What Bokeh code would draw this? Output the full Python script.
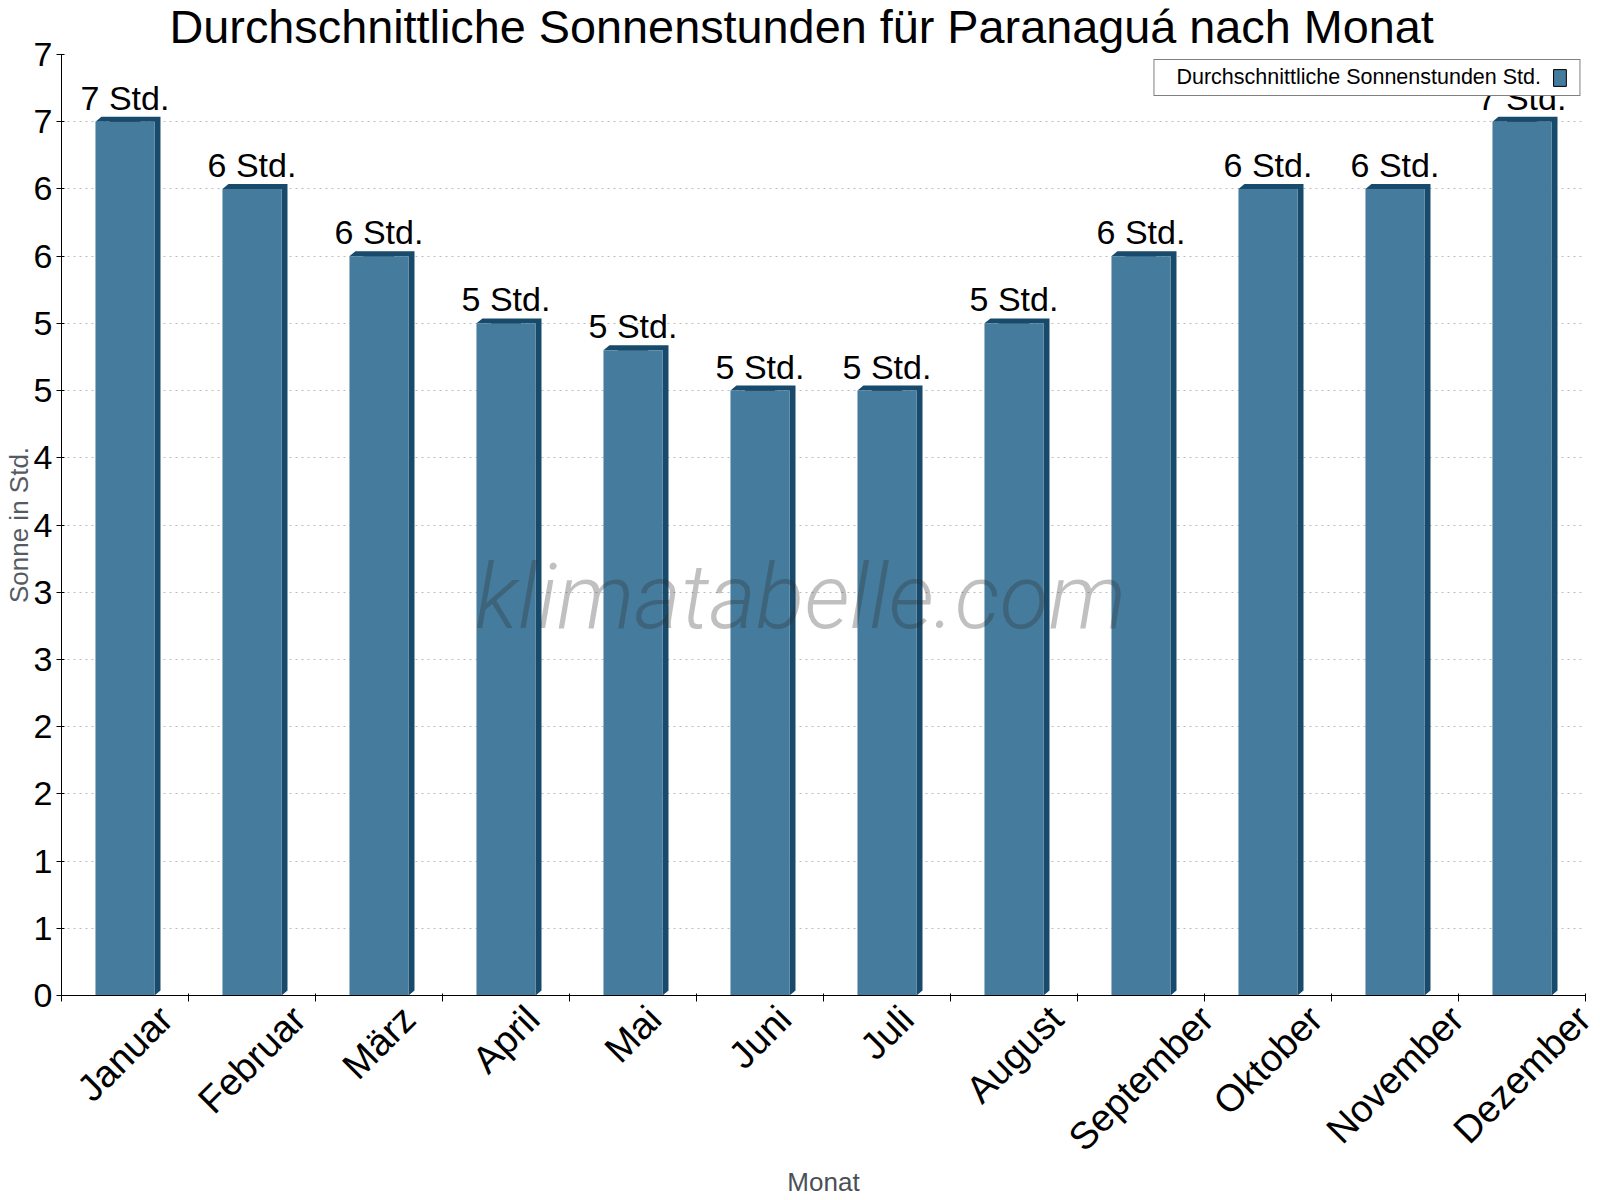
import math

from bokeh.plotting import figure
from bokeh.models import (
    ColumnDataSource, CustomJSTickFormatter, FixedTicker, Label,
    Legend, LegendItem, LinearAxis, Range1d
)
from bokeh.core.properties import value
from bokeh.embed import file_html
from bokeh.resources import INLINE

# ---------------------------------------------------------------- data
MONTHS = ["Januar", "Februar", "März", "April", "Mai", "Juni",
          "Juli", "August", "September", "Oktober", "November", "Dezember"]
SUN_HOURS = [6.5, 6.0, 5.5, 5.0, 4.8, 4.5, 4.5, 5.0, 5.5, 6.0, 6.0, 6.5]
Y_TICKS = [0, 0.5, 1, 1.5, 2, 2.5, 3, 3.5, 4, 4.5, 5, 5.5, 6, 6.5, 7]

TITLE = "Durchschnittliche Sonnenstunden für Paranaguá nach Monat"
SERIES = "Durchschnittliche Sonnenstunden Std."
FONT = "Liberation Sans"

FRONT = "#457b9d"
SIDE = "#184a6b"

BAR_W = 0.465
DX, DY = 0.047, 0.037      # fake 3d depth (data units)
FRAME_W, FRAME_H = 1525, 942
PX_X = 12 / FRAME_W        # data units per pixel
PX_Y = 7 / FRAME_H
MONTH_PX = 38

# rough Arial advance widths (em), used to centre the rotated month names
CHAR_W = dict(J=.5, a=.556, n=.556, u=.556, r=.333, F=.611, e=.556, b=.556,
              M=.833, ä=.556, z=.5, A=.667, p=.556, i=.222, l=.222, o=.556,
              t=.278, g=.556, S=.667, m=.833, O=.778, k=.5, N=.722, v=.5, D=.722)

# ---------------------------------------------------------------- sources
xc = [i + 0.5 for i in range(len(MONTHS))]
labels = [f"{math.floor(v + 0.5)} Std." for v in SUN_HOURS]
label_y = [v + 24 * PX_Y for v in SUN_HOURS]

front = ColumnDataSource(dict(x=xc, top=SUN_HOURS, label=labels, ly=label_y))

side_xs, side_ys = [], []
for x, v in zip(xc, SUN_HOURS):
    l, r = x - BAR_W / 2, x + BAR_W / 2
    side_xs.append([l, l + DX, r + DX, r + DX, r, r])
    side_ys.append([v, v + DY, v + DY, DY, 0, v])
side = ColumnDataSource(dict(xs=side_xs, ys=side_ys))

# month tick positions: right end of each rotated name, so the name is centred
month_ticks = [
    x + sum(CHAR_W.get(c, .556) for c in m) * MONTH_PX / (2 * math.sqrt(2)) * PX_X
    for x, m in zip(xc, MONTHS)
]

# ---------------------------------------------------------------- figure
p = figure(
    width=1600, height=1200,
    x_range=Range1d(0, 12), y_range=Range1d(0, 7),
    x_axis_type=None,
    output_backend="svg", toolbar_location=None, tools="",
    min_border_left=60, min_border_right=15,
    min_border_top=53, min_border_bottom=205,
)
p.outline_line_color = None
p.background_fill_color = "white"
p.border_fill_color = "white"

p.title.text = TITLE
p.title.align = "left"
p.title.offset = 108
p.title.vertical_align = "top"
p.title.text_font = FONT
p.title.text_font_size = "46.8px"
p.title.text_font_style = "normal"
p.title.text_color = "black"
p.title.standoff = 0

# y axis
yax = p.yaxis[0]
yax.ticker = FixedTicker(ticks=Y_TICKS, minor_ticks=[])
yax.formatter = CustomJSTickFormatter(code="return Math.floor(tick + 0.5).toString();")
yax.major_label_text_font = FONT
yax.major_label_text_font_size = "34px"
yax.major_label_text_color = "black"
yax.major_label_standoff = 4
yax.major_tick_out = 5
yax.major_tick_in = 3
yax.axis_line_color = "black"
yax.major_tick_line_color = "black"
yax.axis_label = "Sonne in Std."
yax.axis_label_text_font = FONT
yax.axis_label_text_font_size = "26px"
yax.axis_label_text_font_style = "normal"
yax.axis_label_text_color = "#555b63"
yax.axis_label_standoff = -3

# x axis: month names as major labels, small ticks between the months
xax = LinearAxis(
    ticker=FixedTicker(ticks=month_ticks, minor_ticks=list(range(len(MONTHS) + 1))),
    formatter=CustomJSTickFormatter(
        args=dict(months=MONTHS, pos=month_ticks),
        code="""
            let best = 0;
            for (let i = 1; i < pos.length; i++) {
                if (Math.abs(pos[i] - tick) < Math.abs(pos[best] - tick)) best = i;
            }
            return months[best];
        """),
)
xax.major_label_orientation = math.pi / 4
xax.major_label_text_font = FONT
xax.major_label_text_font_size = f"{MONTH_PX}px"
xax.major_label_text_color = "black"
xax.major_label_standoff = 11
xax.major_tick_out = 0
xax.major_tick_in = 0
xax.minor_tick_out = 6
xax.minor_tick_in = 2
xax.minor_tick_line_color = "black"
xax.axis_line_color = "black"
xax.axis_label = "Monat"
xax.axis_label_text_font = FONT
xax.axis_label_text_font_size = "26px"
xax.axis_label_text_font_style = "normal"
xax.axis_label_text_color = "#4a5058"
xax.axis_label_standoff = -10
p.add_layout(xax, "below")

p.xgrid.visible = False
p.ygrid.ticker = FixedTicker(ticks=Y_TICKS)
p.ygrid.grid_line_color = "#bdbdbd"
p.ygrid.grid_line_dash = "2 4"

# ---------------------------------------------------------------- bars
# hidden under the bars, only gives the legend its outlined swatch
swatch = p.vbar(x="x", top="top", width=BAR_W / 2, source=front,
                fill_color=FRONT, line_color="black")
p.patches("xs", "ys", source=side, fill_color=SIDE, line_color=None)
p.vbar(x="x", top="top", width=BAR_W, source=front,
       fill_color=FRONT, line_color=None)

p.text(x="x", y="ly", text="label", source=front,
       text_align="center", text_baseline="middle",
       text_font=value(FONT), text_font_size="34px", text_color="black")

# watermark
p.add_layout(Label(
    x=739, y=398, x_units="screen", y_units="screen",
    text="klimatabelle.com", text_align="center", text_baseline="middle",
    text_font="Roboto Light", text_font_style="italic", text_font_size="90px",
    text_color="#303030", text_alpha=0.3,
))

# legend: text first, swatch on the right
blank = p.vbar(x=[], top=[], width=0.5, fill_alpha=0, line_alpha=0)
legend = Legend(
    items=[LegendItem(label=SERIES, renderers=[blank]),
           LegendItem(label=" ", renderers=[swatch])],
    orientation="horizontal",
    location="top_right", margin=5, padding=5, spacing=10,
    glyph_width=16, glyph_height=21, label_standoff=1, label_width=6,
    label_text_font=FONT, label_text_font_size="21.5px", label_text_color="black",
    border_line_color="black", border_line_width=1,
    background_fill_color="white", background_fill_alpha=1,
)
p.add_layout(legend, "center")

open("out.html", "w").write(file_html(p, INLINE))
